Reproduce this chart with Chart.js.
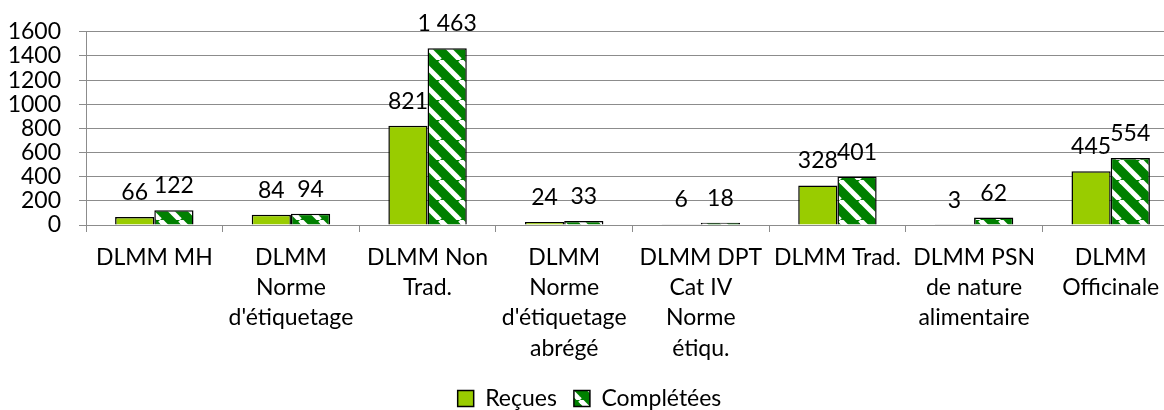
<!DOCTYPE html>
<html>
<head>
<meta charset="utf-8">
<script src="https://cdn.jsdelivr.net/npm/chart.js@4/dist/chart.umd.min.js"></script>
<style>
  html, body { margin: 0; padding: 0; background: #fff; overflow: hidden; width: 1164px; height: 410px; }
  #wrap { width: 1180px; height: 420px; }
</style>
</head>
<body>
<div id="wrap"><canvas id="chart" width="1180" height="420"></canvas></div>
<script>
const categories = [
  "DLMM MH",
  ["DLMM", "Norme", "d'étiquetage"],
  ["DLMM Non", "Trad."],
  ["DLMM", "Norme", "d'étiquetage", "abrégé"],
  ["DLMM DPT", "Cat IV", "Norme", "étiqu."],
  "DLMM Trad.",
  ["DLMM PSN", "de nature", "alimentaire"],
  ["DLMM", "Officinale"]
];
const recues = [66, 84, 821, 24, 6, 328, 3, 445];
const completees = [122, 94, 1463, 33, 18, 401, 62, 554];
const yMin = 0, yMax = 1600, yStep = 200;

const FONT = "Lato";
const SIZE = 23;
const gridGray = "#8c8c8c";

const canvas = document.getElementById("chart");
const ctx = canvas.getContext("2d");

// diagonal white stripes on dark green
function stripes() {
  const tile = document.createElement("canvas");
  tile.width = 20; tile.height = 20;
  const g = tile.getContext("2d");
  g.fillStyle = "#008000";
  g.fillRect(0, 0, 20, 20);
  g.strokeStyle = "#ffffff";
  g.lineWidth = 5;
  for (const o of [-20, 0, 20]) {
    g.beginPath();
    g.moveTo(o, 0);
    g.lineTo(o + 20, 20);
    g.stroke();
  }
  return ctx.createPattern(tile, "repeat");
}

const fmt = (v) => String(v).replace(/\B(?=(\d{3})+(?!\d))/g, " ");

const valueLabels = {
  id: "valueLabels",
  afterDatasetsDraw(chart) {
    const c = chart.ctx;
    c.save();
    c.font = `${SIZE}px ${FONT}`;
    c.fillStyle = "#000";
    c.textAlign = "center";
    c.textBaseline = "alphabetic";
    chart.data.datasets.forEach((ds, i) => {
      chart.getDatasetMeta(i).data.forEach((bar, j) => {
        c.fillText(fmt(ds.data[j]), bar.x, bar.y - 17);
      });
    });
    c.restore();
  }
};

new Chart(canvas, {
  type: "bar",
  data: {
    labels: categories,
    datasets: [
      { label: "Reçues", data: recues, backgroundColor: "#99cc00", borderColor: "#000", borderWidth: 1.5 },
      { label: "Complétées", data: completees, backgroundColor: stripes(), borderColor: "#000", borderWidth: 1.5 }
    ]
  },
  options: {
    responsive: false,
    animation: false,
    categoryPercentage: 0.574,
    barPercentage: 1,
    layout: { padding: { top: 29, right: 1, left: 0, bottom: 0 } },
    plugins: {
      legend: {
        position: "bottom",
        labels: { color: "#000", font: { family: FONT, size: SIZE }, boxWidth: 16, boxHeight: 16, padding: 17 }
      },
      tooltip: { enabled: false }
    },
    scales: {
      x: {
        grid: { offset: true, drawOnChartArea: false, color: gridGray, tickLength: 7 },
        border: { color: gridGray, width: 1 },
        ticks: { color: "#000", font: { family: FONT, size: SIZE, lineHeight: 1.32 }, padding: 10, maxRotation: 0, autoSkip: false },
        afterFit: (s) => { s.height = 145; }
      },
      y: {
        min: yMin, max: yMax,
        grid: { color: gridGray, tickLength: 7 },
        border: { color: gridGray, width: 1 },
        ticks: { stepSize: yStep, autoSkip: false, color: "#000", font: { family: FONT, size: SIZE }, padding: 18, callback: (v) => String(v) },
        afterFit: (s) => { s.width = 86; }
      }
    }
  },
  plugins: [valueLabels]
});
</script>
</body>
</html>
